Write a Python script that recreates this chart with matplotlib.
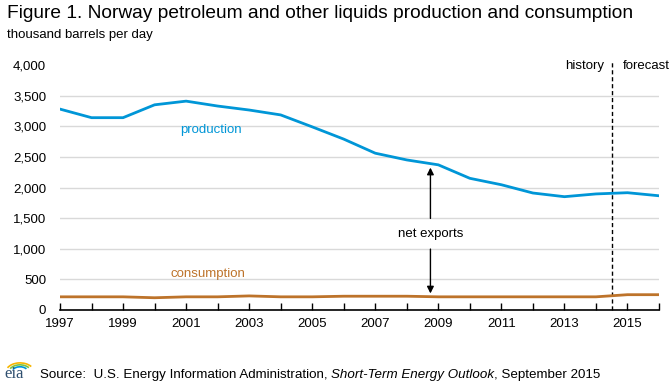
import numpy as np
import matplotlib.pyplot as plt
from matplotlib.patches import Arc

plt.rcParams['font.family'] = ['Liberation Sans', 'DejaVu Sans']

years = np.arange(1997, 2017)
production = [3280, 3140, 3140, 3350, 3410, 3330, 3265, 3185, 2990, 2790,
              2560, 2450, 2370, 2150, 2045, 1910, 1850, 1895, 1915, 1865]
consumption = [215, 215, 215, 200, 215, 215, 230, 215, 215, 225,
               225, 225, 215, 215, 215, 215, 215, 215, 250, 250]
yticks = np.arange(0, 4001, 500)
xlabels = np.arange(1997, 2017, 2)

blue = '#0096d7'
brown = '#bd732a'

fig = plt.figure(figsize=(6.69, 3.85), dpi=100)
ax = fig.add_axes([60 / 669, 1 - 310 / 385, 599 / 669, 245 / 385])

for y in yticks[1:-1]:
    ax.axhline(y, color='#d9d9d9', lw=1, zorder=0)

ax.plot(years, production, color=blue, lw=2, zorder=3)
ax.plot(years, consumption, color=brown, lw=2, zorder=3)

ax.set_xlim(1997, 2016)
ax.set_ylim(0, 4000)
ax.set_yticks(yticks)
ax.set_yticklabels([f'{v:,}' for v in yticks], fontsize=9.5)
ax.set_xticks(xlabels)
ax.set_xticklabels([str(v) for v in xlabels], fontsize=9.5)
ax.set_xticks(years, minor=True)
ax.tick_params(axis='y', length=0, pad=10)
ax.tick_params(axis='x', which='both', length=5, direction='in', width=1, pad=6)
for s in ['top', 'right', 'left']:
    ax.spines[s].set_visible(False)
ax.spines['bottom'].set_linewidth(1.2)

# history / forecast divider
ax.plot([2014.5, 2014.5], [0, 4050], color='black', lw=1, ls=(0, (3, 2)), clip_on=False)
ax.text(2014.25, 3980, 'history', fontsize=9.5, ha='right', va='center')
ax.text(2014.85, 3980, 'forecast', fontsize=9.5, ha='left', va='center')

ax.text(2001.8, 2940, 'production', color=blue, fontsize=9.5, ha='center', va='center')
ax.text(2001.7, 590, 'consumption', color=brown, fontsize=9.5, ha='center', va='center')

# net exports arrow
ax.text(2008.75, 1240, 'net exports', fontsize=9.5, ha='center', va='center')
ax.annotate('', xy=(2008.75, 2370), xytext=(2008.75, 1450),
            arrowprops=dict(arrowstyle='-|>', color='black', lw=1, mutation_scale=10))
ax.annotate('', xy=(2008.75, 225), xytext=(2008.75, 1040),
            arrowprops=dict(arrowstyle='-|>', color='black', lw=1, mutation_scale=10))

fig.text(7 / 669, 1 - 13 / 385, 'Figure 1. Norway petroleum and other liquids production and consumption',
         fontsize=13.8, va='center', ha='left')
fig.text(7 / 669, 1 - 35 / 385, 'thousand barrels per day', fontsize=9.5, va='center', ha='left')

# source line with small eia mark
fig.text(4 / 669, 1 - 374 / 385, 'eia', fontsize=12, family='Liberation Serif',
         color='#2f4f6f', va='center', ha='left')
for c, r in [('#f7b500', 14), ('#7cc242', 11), ('#0096d7', 8)]:
    fig.patches.append(Arc((20 / 669, 1 - 372 / 385), r / 669 * 2, r / 385 * 1.3,
                           theta1=40, theta2=150, color=c, lw=1.2,
                           transform=fig.transFigure))
src = fig.text(40 / 669, 1 - 375 / 385, 'Source:  U.S. Energy Information Administration, ',
               fontsize=9.6, va='center', ha='left')
fig.canvas.draw()
r = fig.canvas.get_renderer()
bb = src.get_window_extent(r)
it = fig.text(bb.x1 / fig.bbox.width, 1 - 375 / 385, 'Short-Term Energy Outlook', fontsize=9.6,
              style='italic', va='center', ha='left')
bb2 = it.get_window_extent(r)
fig.text(bb2.x1 / fig.bbox.width, 1 - 375 / 385, ', September 2015', fontsize=9.6,
         va='center', ha='left')

fig.savefig('out.png', dpi=100)
